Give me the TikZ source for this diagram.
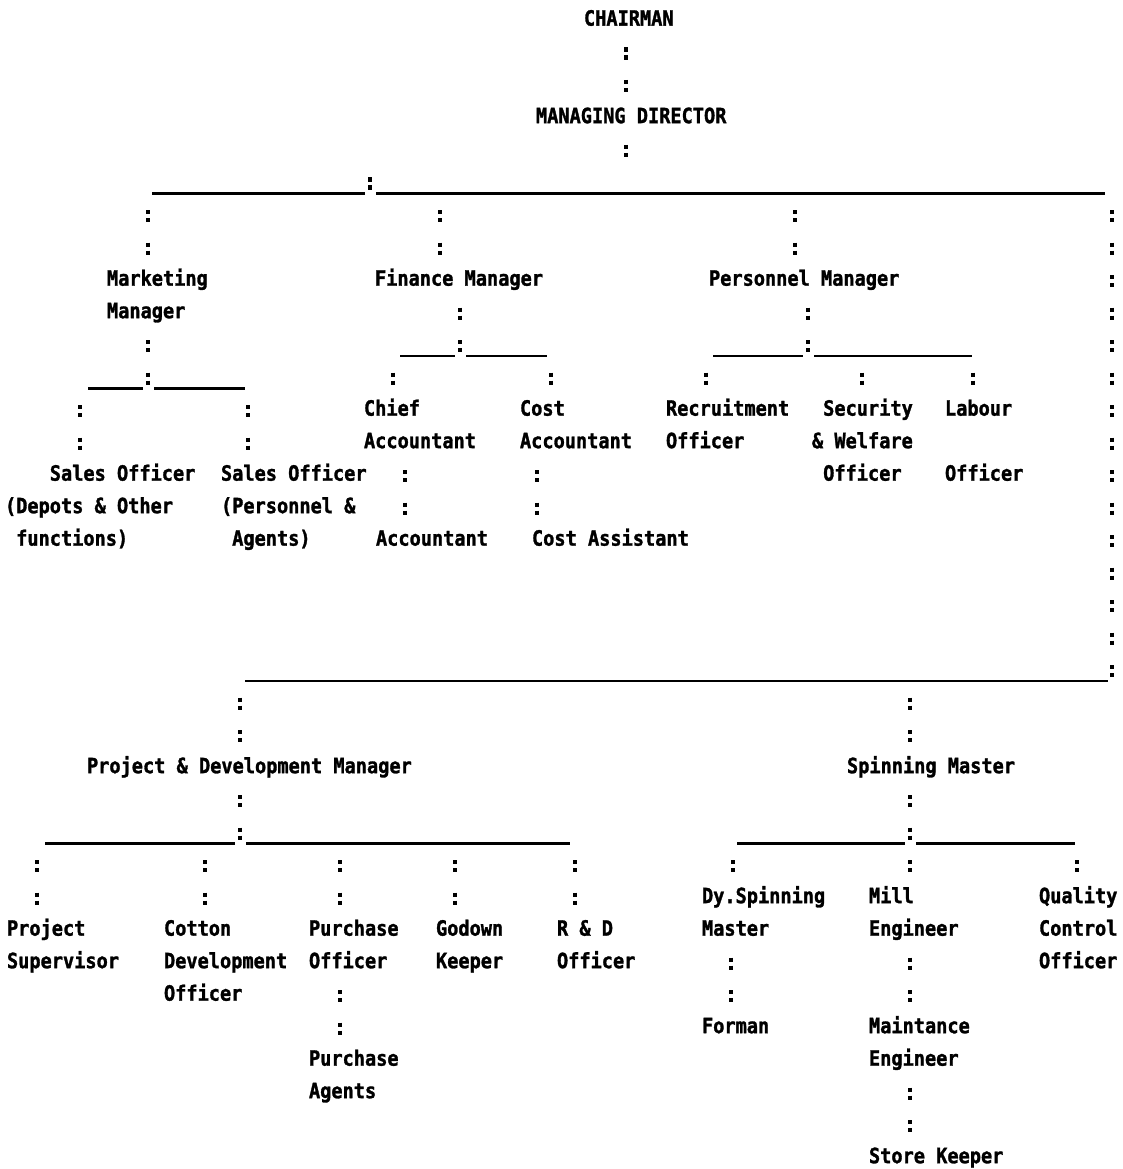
\documentclass[tikz,border=0pt]{standalone}
\usepackage{fontspec}
\newfontfamily\typ[FakeStretch=0.886, FakeBold=1.4]{DejaVu Sans Mono Bold}
\newdimen\cw \cw=11.2pt
\newcommand\rs{\vrule width0pt height23.9pt depth8.6pt}
\newcommand\ind[1]{\kern#1\cw}
\newcommand\lines[1]{\vtop{\baselineskip=32.5pt\lineskip=0pt\lineskiplimit=-100pt\halign{##\hfil\rs\cr#1\crcr}}}
\tikzset{
  txt/.style={anchor=north west, inner sep=0pt, outer sep=0pt,
    font={\typ\fontsize{21pt}{32.5pt}\selectfont}},
  colons/.style={line width=4.2pt, dash pattern=on 4.2pt off 3.8pt on 4.2pt off 20.3pt, dash phase=19.25pt},
  colonsbar/.style={colons, dash phase=16pt},
  bar/.style={line width=2.8pt}
}
\begin{document}
\begin{tikzpicture}[x=1pt,y=-1pt]
\fill[white] (0,0) rectangle (1122,1169);
\useasboundingbox (0,0) rectangle (1122,1169);

% ---------- text nodes ----------
\node[txt] (chair) at (584,1.75)   {\lines{CHAIRMAN}};
\node[txt] (md)    at (536,99.25)  {\lines{MANAGING DIRECTOR}};
\node[txt] (mkt)   at (107,261.75) {\lines{Marketing\cr Manager}};
\node[txt] (fin)   at (375,261.75) {\lines{Finance Manager}};
\node[txt] (per)   at (709,261.75) {\lines{Personnel Manager}};
\node[txt] (chief) at (364,391.75) {\lines{Chief\cr Accountant}};
\node[txt] (cost)  at (520,391.75) {\lines{Cost\cr Accountant}};
\node[txt] (rec)   at (666,391.75) {\lines{Recruitment\cr Officer}};
\node[txt] (sec)   at (812,391.75) {\lines{\ind1Security\cr \& Welfare\cr \ind1Officer}};
\node[txt] (lab)   at (945,391.75) {\lines{Labour\cr\cr Officer}};
\node[txt] (so1)   at (5,456.75)   {\lines{\ind4Sales Officer\cr (Depots \& Other\cr \ind1functions)}};
\node[txt] (so2)   at (221,456.75) {\lines{Sales Officer\cr (Personnel \&\cr \ind1Agents)}};
\node[txt] (acc)   at (376,521.75) {\lines{Accountant}};
\node[txt] (costa) at (532,521.75) {\lines{Cost Assistant}};
\node[txt] (pd)    at (87,749.25)  {\lines{Project \& Development Manager}};
\node[txt] (sm)    at (847,749.25) {\lines{Spinning Master}};
\node[txt] (dy)    at (702,879.25) {\lines{Dy.Spinning\cr Master}};
\node[txt] (mill)  at (869,879.25) {\lines{Mill\cr Engineer}};
\node[txt] (qc)    at (1039,879.25){\lines{Quality\cr Control\cr Officer}};
\node[txt] (proj)  at (7,911.75)   {\lines{Project\cr Supervisor}};
\node[txt] (cot)   at (164,911.75) {\lines{Cotton\cr Development\cr Officer}};
\node[txt] (pur)   at (309,911.75) {\lines{Purchase\cr Officer}};
\node[txt] (god)   at (436,911.75) {\lines{Godown\cr Keeper}};
\node[txt] (rd)    at (557,911.75) {\lines{R \& D\cr Officer}};
\node[txt] (forman) at (702,1009.25) {\lines{Forman}};
\node[txt] (maint) at (869,1009.25) {\lines{Maintance\cr Engineer}};
\node[txt] (pag)   at (309,1041.75) {\lines{Purchase\cr Agents}};
\node[txt] (store) at (869,1139.25) {\lines{Store Keeper}};

% ---------- top ----------
\path ([xshift=42pt]chair.south west) coordinate (k-chair);
\draw[colons] (k-chair) -- (k-chair |- md.north);
\draw[colons] ([xshift=90pt]md.south west) -- ++(0,32.5);

% top bar
\coordinate (tbL) at (152,193.5);
\coordinate (tbR) at (1105,193.5);
\coordinate (tbJ) at (370,193.5);
\draw[bar] (tbL) -- ([xshift=-5pt]tbJ);
\draw[bar] ([xshift=6pt]tbJ) -- (tbR);
\draw[colons] ([yshift=29.25pt]tbJ) -- (tbJ);
\coordinate (c-mkt) at (148,193.5);
\coordinate (c-fin) at (440,193.5);
\coordinate (c-per) at (795,193.5);
\coordinate (c-rt)  at (1112,193.5);
\draw[colonsbar] (c-mkt) -- (c-mkt |- mkt.north);
\draw[colonsbar] (c-fin) -- (c-fin |- fin.north);
\draw[colonsbar] (c-per) -- (c-per |- per.north);

% marketing
\coordinate (mbL) at (88,388.5);
\coordinate (mbR) at (245,388.5);
\coordinate (mbJ) at (148,388.5);
\draw[colons] (mkt.south -| mbJ) -- (mbJ);
\draw[bar] (mbL) -- ([xshift=-5pt]mbJ);
\draw[bar] ([xshift=6pt]mbJ) -- (mbR);
\coordinate (c-so1) at (80,388.5);
\coordinate (c-so2) at (248,388.5);
\draw[colonsbar] (c-so1) -- (c-so1 |- so1.north);
\draw[colonsbar] (c-so2) -- (c-so2 |- so2.north);

% finance
\coordinate (fbL) at (400,356);
\coordinate (fbR) at (547,356);
\coordinate (fbJ) at (460,356);
\draw[colons] (fin.south -| fbJ) -- (fbJ);
\draw[bar] (fbL) -- ([xshift=-5pt]fbJ);
\draw[bar] ([xshift=6pt]fbJ) -- (fbR);
\coordinate (c-chief) at (393,356);
\coordinate (c-cost)  at (551,356);
\draw[colonsbar] (c-chief) -- (c-chief |- chief.north);
\draw[colonsbar] (c-cost) -- (c-cost |- cost.north);
\path ([xshift=41pt]chief.south west) coordinate (k-chief);
\draw[colons] (k-chief) -- (k-chief |- acc.north);
\path ([xshift=17pt]cost.south west) coordinate (k-cost);
\draw[colons] (k-cost) -- (k-cost |- costa.north);

% personnel
\coordinate (pbL) at (713,356);
\coordinate (pbR) at (972,356);
\coordinate (pbJ) at (808,356);
\draw[colons] (per.south -| pbJ) -- (pbJ);
\draw[bar] (pbL) -- ([xshift=-5pt]pbJ);
\draw[bar] ([xshift=6pt]pbJ) -- (pbR);
\coordinate (c-rec) at (706,356);
\coordinate (c-sec) at (862,356);
\coordinate (c-lab) at (973,356);
\draw[colonsbar] (c-rec) -- (c-rec |- rec.north);
\draw[colonsbar] (c-sec) -- (c-sec |- sec.north);
\draw[colonsbar] (c-lab) -- (c-lab |- lab.north);

% right column and lower bar
\coordinate (bbL) at (245,681);
\coordinate (bbR) at (1108,681);
\coordinate (bb-rt) at (1112,681);
\draw[colonsbar] (c-rt) -- (bb-rt);
\draw[bar] (bbL) -- (bbR);
\coordinate (c-pd) at (240,681);
\coordinate (c-sm) at (910,681);
\draw[colonsbar] (c-pd) -- (c-pd |- pd.north);
\draw[colonsbar] (c-sm) -- (c-sm |- sm.north);

% project & development
\coordinate (dbL) at (45,843.5);
\coordinate (dbR) at (570,843.5);
\coordinate (dbJ) at (240,843.5);
\draw[colons] (pd.south -| dbJ) -- (dbJ);
\draw[bar] (dbL) -- ([xshift=-5pt]dbJ);
\draw[bar] ([xshift=6pt]dbJ) -- (dbR);
\coordinate (c-proj) at (37,843.5);
\coordinate (c-cot)  at (205,843.5);
\coordinate (c-pur)  at (340,843.5);
\coordinate (c-god)  at (455,843.5);
\coordinate (c-rd)   at (575,843.5);
\draw[colonsbar] (c-proj) -- (c-proj |- proj.north);
\draw[colonsbar] (c-cot) -- (c-cot |- cot.north);
\draw[colonsbar] (c-pur) -- (c-pur |- pur.north);
\draw[colonsbar] (c-god) -- (c-god |- god.north);
\draw[colonsbar] (c-rd) -- (c-rd |- rd.north);
\path ([xshift=31pt]pur.south west) coordinate (k-pur);
\draw[colons] (k-pur) -- (k-pur |- pag.north);

% spinning
\coordinate (sbL) at (737,843.5);
\coordinate (sbR) at (1075,843.5);
\coordinate (sbJ) at (910,843.5);
\draw[colons] (sm.south -| sbJ) -- (sbJ);
\draw[bar] (sbL) -- ([xshift=-5pt]sbJ);
\draw[bar] ([xshift=6pt]sbJ) -- (sbR);
\coordinate (c-dy)   at (733,843.5);
\coordinate (c-mill) at (910,843.5);
\coordinate (c-qc)   at (1077,843.5);
\draw[colonsbar] (c-dy) -- (c-dy |- dy.north);
\draw[colonsbar] (c-mill) -- (c-mill |- mill.north);
\draw[colonsbar] (c-qc) -- (c-qc |- qc.north);
\path ([xshift=29pt]dy.south west) coordinate (k-dy);
\draw[colons] (k-dy) -- (k-dy |- forman.north);
\path ([xshift=41pt]mill.south west) coordinate (k-mill);
\draw[colons] (k-mill) -- (k-mill |- maint.north);
\path ([xshift=41pt]maint.south west) coordinate (k-maint);
\draw[colons] (k-maint) -- (k-maint |- store.north);
\end{tikzpicture}
\end{document}
